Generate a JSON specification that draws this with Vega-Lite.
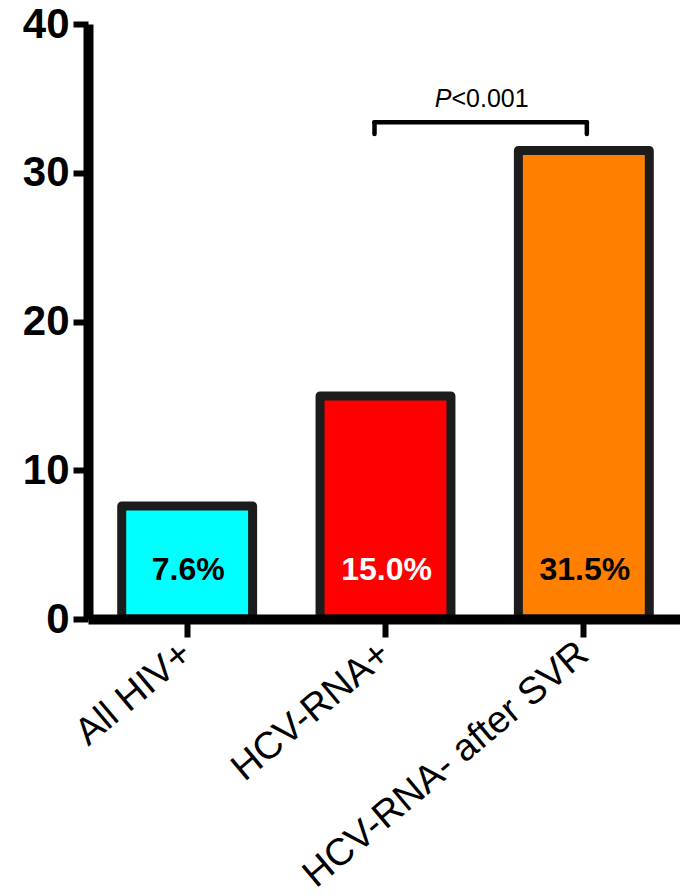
{
  "$schema": "https://vega.github.io/schema/vega-lite/v6.json",
  "width": 595,
  "height": 595,
  "autosize": {"type": "none"},
  "padding": {"left": 88, "top": 24, "right": 0, "bottom": 277},
  "background": "white",
  "config": {"view": {"stroke": null}, "font": "Liberation Sans"},
  "data": {"values": [
    {"group": "All HIV+", "pct": 7.6, "label": "7.6%"},
    {"group": "HCV-RNA+", "pct": 15.0, "label": "15.0%"},
    {"group": "HCV-RNA- after SVR", "pct": 31.5, "label": "31.5%"}
  ]},
  "encoding": {
    "x": {
      "field": "group", "type": "nominal", "sort": null,
      "scale": {"domain": ["All HIV+", "HCV-RNA+", "HCV-RNA- after SVR"], "paddingInner": 0.34, "paddingOuter": 0.17},
      "axis": {
        "title": null, "zindex": 1, "domainWidth": 10, "domainColor": "black",
        "tickWidth": 6, "tickSize": 18, "tickColor": "black",
        "labelAngle": -40, "labelAlign": "right", "labelBaseline": "middle",
        "labelFontSize": 38, "labelColor": "black", "labelPadding": 12, "labelLimit": 1000, "labelFont": "Liberation Sans"
      }
    }
  },
  "layer": [
    {
      "mark": {"type": "bar", "stroke": "#1c1c1c", "strokeWidth": 9, "strokeJoin": "round"},
      "encoding": {
        "y": {
          "field": "pct", "type": "quantitative", "scale": {"domain": [0, 40]},
          "axis": {
            "title": null, "zindex": 1, "grid": false, "values": [0, 10, 20, 30, 40],
            "domainWidth": 10, "domainColor": "black",
            "tickWidth": 6, "tickSize": 15, "tickColor": "black",
            "labelFontSize": 42, "labelFontWeight": "bold", "labelColor": "black",
            "labelPadding": 4, "labelFont": "Liberation Sans"
          }
        },
        "fill": {
          "field": "group", "type": "nominal",
          "scale": {"domain": ["All HIV+", "HCV-RNA+", "HCV-RNA- after SVR"], "range": ["#00FFFF", "#FF0000", "#FF8000"]},
          "legend": null
        }
      }
    },
    {
      "mark": {"type": "text", "fontSize": 32, "fontWeight": "bold", "baseline": "middle", "align": "center", "dx": 1, "font": "Liberation Sans"},
      "encoding": {
        "y": {"datum": 3.3, "type": "quantitative"},
        "text": {"field": "label"},
        "color": {"condition": {"test": "datum.group === 'HCV-RNA+'", "value": "white"}, "value": "black"}
      }
    },
    {
      "data": {"values": [{"from": "HCV-RNA+", "to": "HCV-RNA- after SVR", "top": 33.4, "bottom": 32.6}]},
      "layer": [
        {
          "mark": {"type": "rule", "color": "black", "strokeWidth": 4.5, "strokeCap": "round", "xOffset": -11, "x2Offset": 3},
          "encoding": {
            "x": {"field": "from", "type": "nominal"},
            "x2": {"field": "to"},
            "y": {"field": "top", "type": "quantitative"}
          }
        },
        {
          "mark": {"type": "rule", "color": "black", "strokeWidth": 4.5, "strokeCap": "round", "xOffset": -11},
          "encoding": {
            "x": {"field": "from", "type": "nominal"},
            "y": {"field": "top", "type": "quantitative"},
            "y2": {"field": "bottom"}
          }
        },
        {
          "mark": {"type": "rule", "color": "black", "strokeWidth": 4.5, "strokeCap": "round", "xOffset": 3},
          "encoding": {
            "x": {"field": "to", "type": "nominal"},
            "y": {"field": "top", "type": "quantitative"},
            "y2": {"field": "bottom"}
          }
        }
      ]
    },
    {
      "data": {"values": [{"from": "HCV-RNA+", "pos": 34.4, "italic": "P", "rest": "<0.001"}]},
      "layer": [
        {
          "mark": {"type": "text", "fontSize": 25, "fontStyle": "italic", "align": "right", "baseline": "alphabetic", "dx": 66, "color": "black", "font": "Liberation Sans"},
          "encoding": {
            "x": {"field": "from", "type": "nominal"},
            "y": {"field": "pos", "type": "quantitative"},
            "text": {"field": "italic"}
          }
        },
        {
          "mark": {"type": "text", "fontSize": 25, "align": "left", "baseline": "alphabetic", "dx": 66, "color": "black", "font": "Liberation Sans"},
          "encoding": {
            "x": {"field": "from", "type": "nominal"},
            "y": {"field": "pos", "type": "quantitative"},
            "text": {"field": "rest"}
          }
        }
      ]
    }
  ]
}
